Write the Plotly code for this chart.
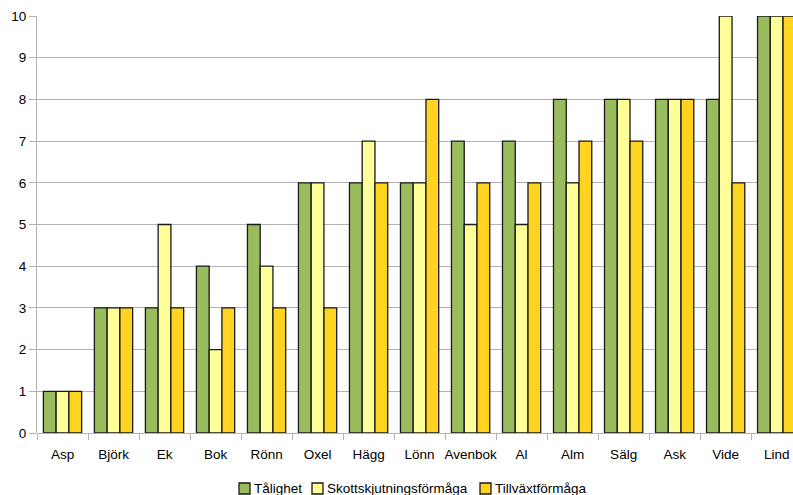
import plotly.graph_objects as go

categories = ["Asp", "Björk", "Ek", "Bok", "Rönn", "Oxel", "Hägg", "Lönn",
              "Avenbok", "Al", "Alm", "Sälg", "Ask", "Vide", "Lind"]
talighet = [1, 3, 3, 4, 5, 6, 6, 6, 7, 7, 8, 8, 8, 8, 10]
skott = [1, 3, 5, 2, 4, 6, 7, 6, 5, 5, 6, 8, 8, 10, 10]
tillvaxt = [1, 3, 3, 3, 3, 3, 6, 8, 6, 6, 7, 7, 8, 6, 10]

series_names = ["Tålighet", "Skottskjutningsförmåga", "Tillväxtförmåga"]
series_values = [talighet, skott, tillvaxt]
series_colors = ["#99BC5C", "#FFFF99", "#FFD320"]

W, H = 793, 495
ML, MR, MT, MB = 37, 0, 16, 62
PW, PH = W - ML - MR, H - MT - MB


def px_x(px):
    return (px - ML) / PW


def px_y(py):
    return (H - MB - py) / PH


fig = go.Figure()
for name, vals, col in zip(series_names, series_values, series_colors):
    fig.add_trace(go.Bar(
        x=categories, y=vals, name=name, showlegend=False,
        marker=dict(color=col, line=dict(color="#1a1a1a", width=1.3)),
    ))

# legend (swatch left edge px, text left px)
legend_pos = [(239, 254), (312, 327), (480, 495)]
shapes, annotations = [], []
for (bx, tx), name, col in zip(legend_pos, series_names, series_colors):
    shapes.append(dict(type="rect", xref="paper", yref="paper",
                       x0=px_x(bx), x1=px_x(bx + 11),
                       y0=px_y(494), y1=px_y(483),
                       fillcolor=col, line=dict(color="#1a1a1a", width=1.3)))
    annotations.append(dict(xref="paper", yref="paper", x=px_x(tx - 1), y=px_y(488.5),
                            xanchor="left", yanchor="middle", showarrow=False,
                            text=name, borderpad=0,
                            font=dict(size=13.5, color="#000",
                                      family="Liberation Sans, Arial, sans-serif")))

fig.update_layout(
    width=W, height=H,
    margin=dict(l=ML, r=MR, t=MT, b=MB, autoexpand=False),
    paper_bgcolor="white", plot_bgcolor="white",
    barmode="group", bargap=0.25, bargroupgap=0,
    font=dict(family="Liberation Sans, Arial, sans-serif", size=13.5, color="#000"),
    showlegend=False,
    shapes=shapes, annotations=annotations,
    xaxis=dict(
        range=[-0.5, 14.32], tickson="boundaries", ticks="outside",
        ticklen=6, tickcolor="#b3b3b3", showgrid=False, showline=False,
        tickfont=dict(size=13.5), tickangle=0, automargin=False,
        ticklabelstandoff=11,
    ),
    yaxis=dict(
        range=[0, 10], dtick=1, ticks="outside", ticklen=7, tickcolor="#b3b3b3",
        showgrid=True, gridcolor="#b3b3b3", gridwidth=1,
        showline=True, linecolor="#b3b3b3", linewidth=1,
        zeroline=True, zerolinecolor="#b3b3b3", zerolinewidth=1,
        tickfont=dict(size=13.5), automargin=False,
    ),
)

fig.write_html("out.html", config={"displayModeBar": False},
               post_script="document.body.style.margin='0';document.body.style.overflow='hidden';")
